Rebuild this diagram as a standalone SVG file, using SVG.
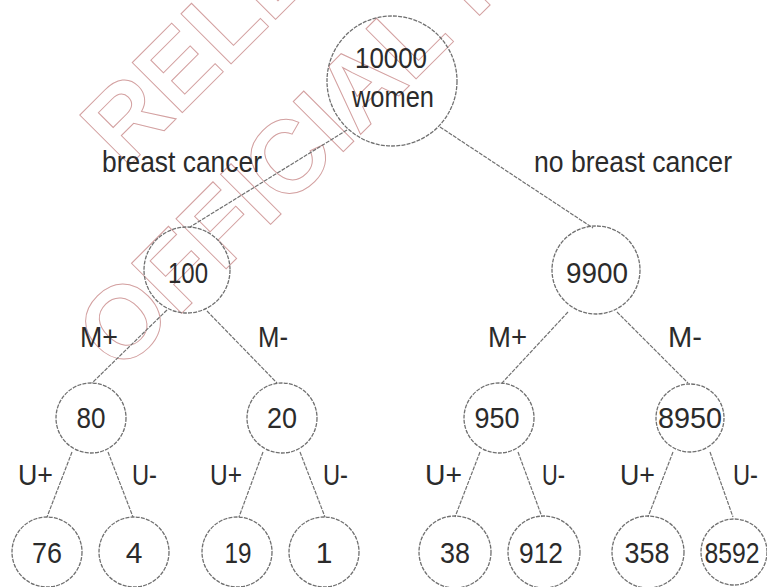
<svg xmlns="http://www.w3.org/2000/svg" width="767" height="587" viewBox="0 0 767 587">
  <style>
    .bg { fill: #ffffff; }
    .node circle { fill: none; stroke: #707070; stroke-width: 1.3; stroke-dasharray: 4 1.2; }
    .edges line { stroke: #707070; stroke-width: 1.2; stroke-dasharray: 4 1.2; }
    text { font-family: "Liberation Sans", Arial, sans-serif; font-size: 30px; fill: #2b2b2b; }
    .mid { text-anchor: middle; }
    .stamp text { font-family: "Liberation Sans", Arial, sans-serif; font-weight: bold; font-size: 103px; fill: none; stroke: #d3a0a0; stroke-width: 1; }
  </style>

  <rect class="bg" x="0" y="0" width="767" height="587"/>

  <!-- diagonal outline stamp -->
  <g class="stamp" id="stamp">
    <text transform="translate(125,170) rotate(-45)">RELEASED UNDER THE</text>
    <text transform="translate(120,375) rotate(-45)">OFFICIAL INFORMATION ACT</text>
  </g>

  <!-- tree branches -->
  <g class="edges" id="edges">
    <line x1="347" y1="130" x2="190" y2="227"/>
    <line x1="440" y1="127" x2="593" y2="228"/>
    <line x1="167" y1="310" x2="92" y2="383"/>
    <line x1="207" y1="311" x2="277" y2="383"/>
    <line x1="568" y1="312" x2="502" y2="383"/>
    <line x1="617" y1="312" x2="688" y2="383"/>
    <line x1="72" y1="452" x2="47" y2="517"/>
    <line x1="108" y1="452" x2="133" y2="517"/>
    <line x1="263" y1="452" x2="239" y2="517"/>
    <line x1="300" y1="452" x2="325" y2="517"/>
    <line x1="480" y1="452" x2="455" y2="517"/>
    <line x1="518" y1="452" x2="542" y2="517"/>
    <line x1="673" y1="452" x2="648" y2="517"/>
    <line x1="710" y1="452" x2="733" y2="517"/>
  </g>

  <!-- branch labels -->
  <g id="labels">
    <text x="102" y="172" textLength="160" lengthAdjust="spacingAndGlyphs">breast cancer</text>
    <text x="534" y="172" textLength="198" lengthAdjust="spacingAndGlyphs">no breast cancer</text>
    <text x="80" y="347" textLength="38" lengthAdjust="spacingAndGlyphs">M+</text>
    <text x="258" y="347" textLength="30" lengthAdjust="spacingAndGlyphs">M-</text>
    <text x="488" y="347" textLength="39" lengthAdjust="spacingAndGlyphs">M+</text>
    <text x="668" y="347" textLength="34" lengthAdjust="spacingAndGlyphs">M-</text>
    <text x="18" y="485" textLength="35" lengthAdjust="spacingAndGlyphs">U+</text>
    <text x="132" y="485" textLength="25" lengthAdjust="spacingAndGlyphs">U-</text>
    <text x="210" y="485" textLength="32" lengthAdjust="spacingAndGlyphs">U+</text>
    <text x="323" y="485" textLength="25" lengthAdjust="spacingAndGlyphs">U-</text>
    <text x="425" y="485" textLength="37" lengthAdjust="spacingAndGlyphs">U+</text>
    <text x="542" y="485" textLength="23" lengthAdjust="spacingAndGlyphs">U-</text>
    <text x="620" y="485" textLength="35" lengthAdjust="spacingAndGlyphs">U+</text>
    <text x="733" y="485" textLength="25" lengthAdjust="spacingAndGlyphs">U-</text>
  </g>

  <!-- root -->
  <g class="node" id="n-root">
    <circle cx="392" cy="81" r="65"/>
    <text x="391" y="68" class="mid" textLength="72" lengthAdjust="spacingAndGlyphs">10000</text>
    <text x="393" y="107" class="mid" textLength="82" lengthAdjust="spacingAndGlyphs">women</text>
  </g>

  <!-- level 1 -->
  <g class="node" id="n-100">
    <circle cx="187" cy="270" r="43"/>
    <text x="188" y="283" class="mid" textLength="40" lengthAdjust="spacingAndGlyphs">100</text>
  </g>
  <g class="node" id="n-9900">
    <circle cx="596" cy="270" r="44"/>
    <text x="597" y="283" class="mid" textLength="62" lengthAdjust="spacingAndGlyphs">9900</text>
  </g>

  <!-- level 2 -->
  <g class="node" id="n-80">
    <circle cx="91" cy="418" r="35"/>
    <text x="91" y="428" class="mid" textLength="29" lengthAdjust="spacingAndGlyphs">80</text>
  </g>
  <g class="node" id="n-20">
    <circle cx="282" cy="418" r="35"/>
    <text x="282" y="428" class="mid" textLength="30" lengthAdjust="spacingAndGlyphs">20</text>
  </g>
  <g class="node" id="n-950">
    <circle cx="499" cy="418" r="35"/>
    <text x="497" y="428" class="mid" textLength="45" lengthAdjust="spacingAndGlyphs">950</text>
  </g>
  <g class="node" id="n-8950">
    <circle cx="690" cy="418" r="34"/>
    <text x="690" y="428" class="mid" textLength="64" lengthAdjust="spacingAndGlyphs">8950</text>
  </g>

  <!-- leaves -->
  <g class="node" id="n-76">
    <circle cx="47" cy="552" r="35"/>
    <text x="47" y="563" class="mid" textLength="30" lengthAdjust="spacingAndGlyphs">76</text>
  </g>
  <g class="node" id="n-4">
    <circle cx="134" cy="552" r="35"/>
    <text x="134" y="563" class="mid">4</text>
  </g>
  <g class="node" id="n-19">
    <circle cx="237" cy="552" r="35"/>
    <text x="238" y="563" class="mid" textLength="27" lengthAdjust="spacingAndGlyphs">19</text>
  </g>
  <g class="node" id="n-1">
    <circle cx="324" cy="552" r="35"/>
    <text x="324" y="563" class="mid">1</text>
  </g>
  <g class="node" id="n-38">
    <circle cx="455" cy="552" r="36"/>
    <text x="455" y="563" class="mid" textLength="30" lengthAdjust="spacingAndGlyphs">38</text>
  </g>
  <g class="node" id="n-912">
    <circle cx="544" cy="552" r="36"/>
    <text x="541" y="563" class="mid" textLength="44" lengthAdjust="spacingAndGlyphs">912</text>
  </g>
  <g class="node" id="n-358">
    <circle cx="648" cy="552" r="36"/>
    <text x="647" y="563" class="mid" textLength="45" lengthAdjust="spacingAndGlyphs">358</text>
  </g>
  <g class="node" id="n-8592">
    <circle cx="734" cy="552" r="33"/>
    <text x="732" y="563" class="mid" textLength="55" lengthAdjust="spacingAndGlyphs">8592</text>
  </g>
</svg>
